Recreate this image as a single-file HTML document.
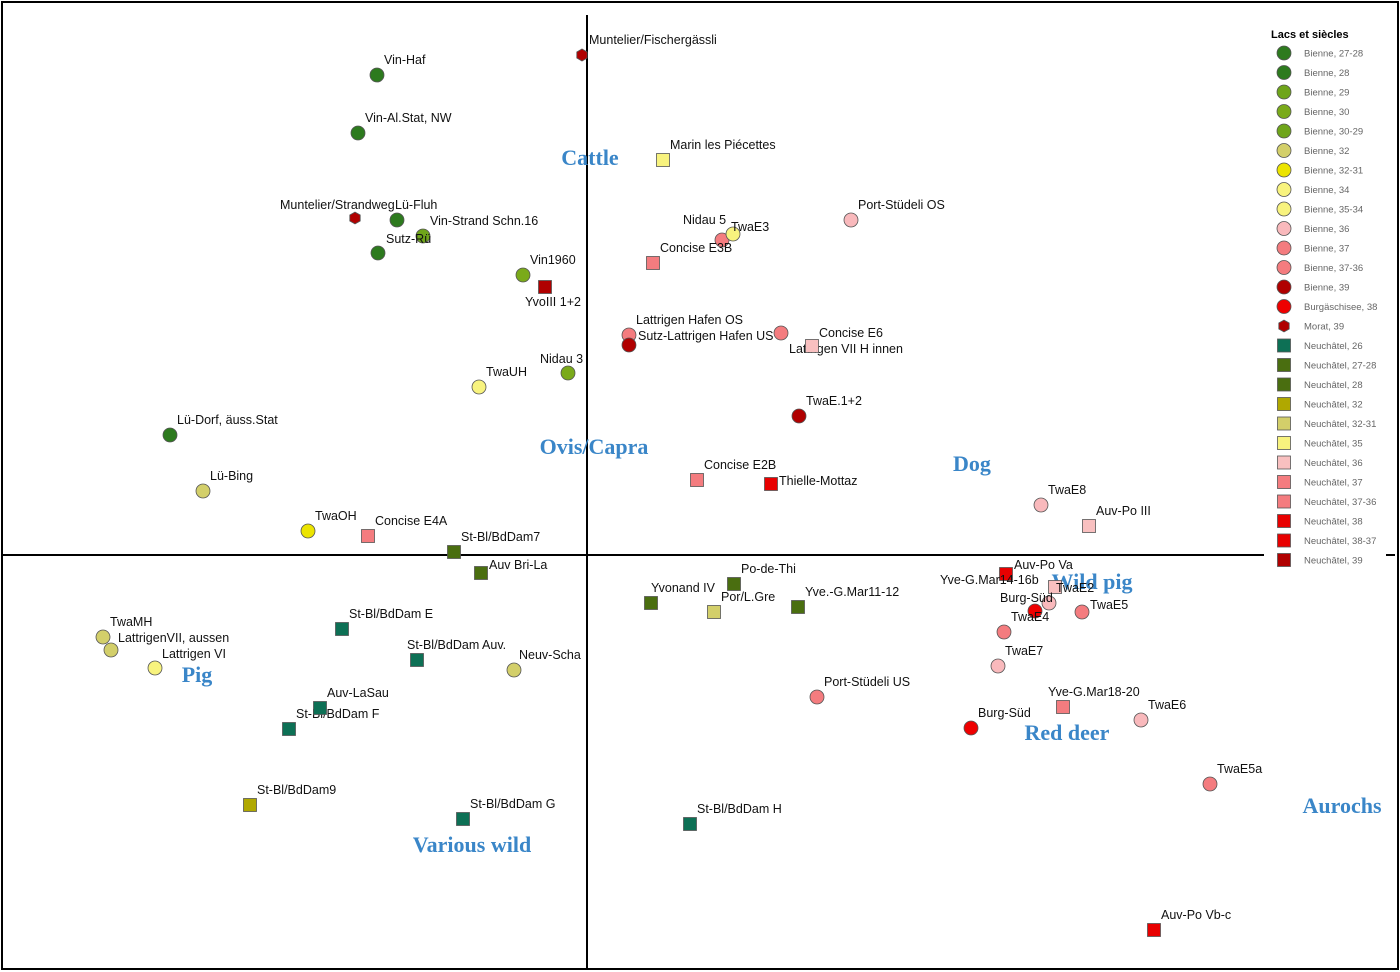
<!DOCTYPE html>
<html><head><meta charset="utf-8"><style>
html,body{margin:0;padding:0;background:#fff;}
svg{display:block;}
</style></head><body>
<svg id="chart" width="1400" height="972" xmlns="http://www.w3.org/2000/svg">
<rect x="2" y="2" width="1396" height="967" fill="#fff" stroke="#000" stroke-width="2"/>
<line x1="587" y1="15" x2="587" y2="970" stroke="#000" stroke-width="2"/>
<line x1="3" y1="555" x2="1395" y2="555" stroke="#000" stroke-width="2"/>
<g id="animals"></g>
<g id="points"></g>
<g id="legend"></g>
</svg>
<script>
const groupNames=["Bienne, 27-28","Bienne, 28","Bienne, 29","Bienne, 30","Bienne, 30-29","Bienne, 32","Bienne, 32-31","Bienne, 34","Bienne, 35-34","Bienne, 36","Bienne, 37","Bienne, 37-36","Bienne, 39","Burgäschisee, 38","Morat, 39","Neuchâtel, 26","Neuchâtel, 27-28","Neuchâtel, 28","Neuchâtel, 32","Neuchâtel, 32-31","Neuchâtel, 35","Neuchâtel, 36","Neuchâtel, 37","Neuchâtel, 37-36","Neuchâtel, 38","Neuchâtel, 38-37","Neuchâtel, 39"];
const groupShapes=["c","c","c","c","c","c","c","c","c","c","c","c","c","c","h","s","s","s","s","s","s","s","s","s","s","s","s"];
const groupColors=["#2d7a1e","#2d7a1e","#6fa51a","#7aaa1a","#6fa51a","#d3cf6a","#ece400","#f8f37e","#f8f37e","#f9b9bc","#f47c7f","#f47c7f","#b00000","#ee0000","#b00000","#0d7055","#4a6e10","#4a6e10","#b0a800","#d3cf6a","#f8f37e","#f9c0c0","#f47c7f","#f47c7f","#e80000","#e80000","#b00000"];
const siteLabels=["Vin-Haf","Vin-Al.Stat, NW","Muntelier/Fischergässli","Marin les Piécettes","Muntelier/Strandweg","Lü-Fluh","Vin-Strand  Schn.16","Sutz-Rü","Port-Stüdeli OS","Nidau 5","TwaE3","Concise E3B","Vin1960","YvoIII 1+2","Lattrigen Hafen OS","Sutz-Lattrigen Hafen US","Lattrigen VII H innen","Concise E6","Nidau 3","TwaUH","TwaE.1+2","Lü-Dorf, äuss.Stat","Lü-Bing","Concise E2B","Thielle-Mottaz","TwaE8","Auv-Po III","TwaOH","Concise E4A","St-Bl/BdDam7","Auv Bri-La","Po-de-Thi","Yvonand IV","Por/L.Gre","Yve.-G.Mar11-12","Auv-Po Va","Yve-G.Mar14-16b","TwaE2","Burg-Süd","TwaE5","TwaE4","TwaE7","Port-Stüdeli US","Yve-G.Mar18-20","TwaE6","Burg-Süd","TwaE5a","Auv-Po Vb-c","St-Bl/BdDam H","St-Bl/BdDam G","St-Bl/BdDam9","St-Bl/BdDam F","Auv-LaSau","St-Bl/BdDam E","St-Bl/BdDam Auv.","Neuv-Scha","TwaMH","LattrigenVII, aussen","Lattrigen VI"];
const siteGroups=[1,1,14,20,14,0,2,0,9,10,7,22,3,26,10,12,10,21,3,7,12,1,5,22,24,9,21,6,23,16,17,16,17,19,17,24,21,9,13,10,10,9,10,23,9,13,10,24,15,15,18,15,15,15,15,5,5,5,8];
const axis1=[-2.10,-2.29,-0.05,0.76,-2.32,-1.90,-1.64,-2.09,2.64,1.35,1.46,0.66,-0.64,-0.42,0.42,0.42,1.94,2.25,-0.19,-1.08,2.12,-4.17,-3.84,1.10,1.84,4.54,5.02,-2.79,-2.19,-1.33,-1.06,1.47,0.64,1.27,2.11,4.19,4.68,4.62,4.48,4.95,4.17,4.11,2.30,4.76,5.54,3.84,6.23,5.67,1.03,-1.24,-3.37,-2.98,-2.67,-2.45,-1.70,-0.73,-4.84,-4.76,-4.32];
const axis2=[4.80,4.22,5.00,3.95,3.37,3.35,3.19,3.02,3.35,3.15,3.21,2.92,2.80,2.68,2.20,2.10,2.22,2.09,1.82,1.68,1.39,1.20,0.64,0.75,0.71,0.50,0.29,0.24,0.19,0.03,-0.18,-0.29,-0.48,-0.57,-0.52,-0.19,-0.32,-0.48,-0.56,-0.57,-0.77,-1.11,-1.42,-1.52,-1.65,-1.73,-2.29,-3.75,-2.69,-2.64,-2.50,-1.74,-1.53,-0.74,-1.05,-1.15,-0.82,-0.95,-1.13];
const animalNames=["Cattle","Ovis/Capra","Dog","Wild pig","Pig","Various wild","Red deer","Aurochs"];
const animalX=[0.03,0.07,3.85,5.05,-3.9,-1.15,4.80,7.55];
const animalY=[3.90,1.01,0.84,-0.34,-1.27,-2.97,-1.85,-2.58];

const labelOffsets={"Nidau 5":[-39,-16],"TwaE3":[-2,-3],"YvoIII 1+2":[-20,19],"Sutz-Lattrigen Hafen US":[9,-5],"Lattrigen VII H innen":[8,20],"Concise E6":[7,-9],"Nidau 3":[-28,-10],"Thielle-Mottaz":[8,1],"Auv Bri-La":[8,-4],"Yvonand IV":[0,-11],"Auv-Po Va":[8,-5],"Yve-G.Mar14-16b":[-115,-3],"Burg-Süd_38":[-35,-9],"TwaE5":[8,-3],"Yve-G.Mar18-20":[-15,-11],"St-Bl/BdDam Auv.":[-10,-11],"Neuv-Scha":[5,-11],"LattrigenVII, aussen":[7,-8],"Lattrigen VI":[7,-10],"Muntelier/Strandweg":[-75,-9],"Lü-Fluh":[-2,-11],"Sutz-Rü":[8,-10]};
const NS="http://www.w3.org/2000/svg";
const xS=v=>587+v*100, yS=v=>555-v*100;
function marker(parent,shape,color,cx,cy,r){
  let m;
  if(shape==="c"){m=document.createElementNS(NS,"circle");m.setAttribute("cx",cx);m.setAttribute("cy",cy);m.setAttribute("r",r);}
  else if(shape==="s"){m=document.createElementNS(NS,"rect");m.setAttribute("x",cx-r);m.setAttribute("y",cy-r);m.setAttribute("width",2*r);m.setAttribute("height",2*r);}
  else {m=document.createElementNS(NS,"polygon");let p=[];for(let k=0;k<6;k++){const a=Math.PI/6+k*Math.PI/3;p.push((cx+r*0.85*Math.cos(a)).toFixed(1)+","+(cy+r*0.85*Math.sin(a)).toFixed(1));}m.setAttribute("points",p.join(" "));}
  m.setAttribute("fill",color);m.setAttribute("stroke","#555");m.setAttribute("stroke-width","0.8");
  parent.appendChild(m);return m;
}
const pg=document.getElementById("points");
for(let i=0;i<siteLabels.length;i++){
  const g=siteGroups[i],cx=xS(axis1[i]),cy=yS(axis2[i]);
  const r=groupShapes[g]==="s"?6.5:7;
  const m=marker(pg,groupShapes[g],groupColors[g],cx,cy,r);
  
  
  let key=siteLabels[i];if(key==="Burg-Süd"&&i===38)key="Burg-Süd_38";
  const off=labelOffsets[key]||[7,-11];
  const t=document.createElementNS(NS,"text");
  t.setAttribute("x",cx+off[0]);t.setAttribute("y",cy+off[1]);
  t.setAttribute("font-family","Liberation Sans, sans-serif");t.setAttribute("font-size","12.5");t.setAttribute("fill","#111");
  t.textContent=siteLabels[i];
  
  
  pg.appendChild(t);
}
const ag=document.getElementById("animals");
for(let i=0;i<animalNames.length;i++){
  const t=document.createElementNS(NS,"text");
  t.setAttribute("x",xS(animalX[i]));t.setAttribute("y",yS(animalY[i]));
  t.setAttribute("text-anchor","middle");t.setAttribute("font-family","Liberation Serif, serif");
  t.setAttribute("font-weight","bold");t.setAttribute("font-size","22");t.setAttribute("fill","#3a86c8");
  t.textContent=animalNames[i];
  
  
  ag.appendChild(t);
}
const lg=document.getElementById("legend");


const bg=document.createElementNS(NS,"rect");
bg.setAttribute("x",1264);bg.setAttribute("y",22);bg.setAttribute("width",122);bg.setAttribute("height",548);bg.setAttribute("fill","#fff");
lg.appendChild(bg);
const tt=document.createElementNS(NS,"text");
tt.setAttribute("x",1271);tt.setAttribute("y",38);tt.setAttribute("font-family","Liberation Sans, sans-serif");
tt.setAttribute("font-weight","bold");tt.setAttribute("font-size","11");tt.textContent="Lacs et siècles";


lg.appendChild(tt);
for(let g=0;g<groupNames.length;g++){
  const y=53+g*19.5;
  const m=marker(lg,groupShapes[g],groupColors[g],1284,y,groupShapes[g]==="s"?6.5:7);
  
  
  const t=document.createElementNS(NS,"text");
  t.setAttribute("x",1304);t.setAttribute("y",y+3.5);t.setAttribute("font-family","Liberation Sans, sans-serif");
  t.setAttribute("font-size","9.5");t.setAttribute("fill","#666");t.textContent=groupNames[g];
  
  
  lg.appendChild(t);
}
</script>
</body></html>
